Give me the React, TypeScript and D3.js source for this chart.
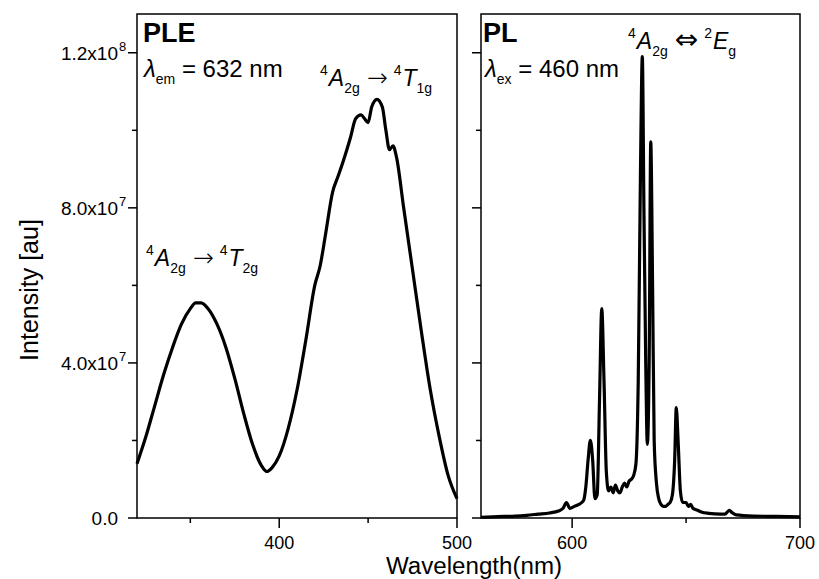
import React from 'react';
import * as d3 from 'd3';

// PLE spectrum (lambda_em = 632 nm)
const pleWavelength = [320, 325, 330, 335, 340, 345, 350, 353, 356, 360, 365, 370, 375, 380, 385, 390, 393, 396, 400, 405, 410, 415, 420, 423, 426, 430, 433, 436, 440, 443, 446, 448, 450, 452, 455, 458, 460, 462, 464, 466, 470, 475, 480, 485, 490, 495, 500];
const pleIntensity = [1.4e7, 2.1e7, 2.9e7, 3.7e7, 4.4e7, 5.0e7, 5.4e7, 5.55e7, 5.55e7, 5.4e7, 5.0e7, 4.4e7, 3.6e7, 2.7e7, 1.9e7, 1.35e7, 1.2e7, 1.3e7, 1.6e7, 2.3e7, 3.3e7, 4.6e7, 6.0e7, 6.5e7, 7.3e7, 8.4e7, 8.8e7, 9.2e7, 9.8e7, 1.03e8, 1.04e8, 1.03e8, 1.02e8, 1.06e8, 1.08e8, 1.06e8, 1.0e8, 9.5e7, 9.6e7, 9.3e7, 8.0e7, 6.4e7, 4.8e7, 3.3e7, 2.1e7, 1.1e7, 5e6];

// PL spectrum (lambda_ex = 460 nm)
const plWavelength = [560, 565, 570, 575, 580, 585, 590, 594, 596, 597.5, 599, 601, 603, 605, 606, 607, 608, 609, 610, 611, 612, 613, 614, 615, 616, 617, 618, 619, 620, 621, 622, 623, 624, 625, 626, 627, 628, 629, 630, 630.8, 631.5, 632.3, 633, 633.8, 634.5, 635.3, 636, 637, 638, 639, 640, 641, 642, 643, 644, 645, 645.7, 646.5, 647.5, 648.5, 650, 651, 652, 653, 655, 657, 660, 665, 667, 669, 670, 672, 680, 690, 700];
const plIntensity = [2e5, 3e5, 4e5, 5e5, 7e5, 1.0e6, 1.3e6, 1.8e6, 2.5e6, 4.0e6, 2.5e6, 3.0e6, 3.5e6, 4.5e6, 8e6, 1.5e7, 2.0e7, 1.5e7, 5e6, 6e6, 3e7, 5.4e7, 3.5e7, 1.2e7, 7e6, 8e6, 6.5e6, 8.5e6, 7e6, 6.5e6, 8e6, 9e6, 8e6, 9.5e6, 1.0e7, 1.1e7, 1.4e7, 3.5e7, 9e7, 1.19e8, 8e7, 4e7, 1.9e7, 4e7, 9.7e7, 6e7, 2e7, 9e6, 5e6, 3.5e6, 3e6, 3e6, 3.5e6, 4e6, 6e6, 1.5e7, 2.85e7, 2e7, 7e6, 4e6, 4e6, 3e6, 3.5e6, 2.5e6, 2e6, 1.5e6, 1.2e6, 1e6, 1e6, 2e6, 1.5e6, 8e5, 5e5, 4e5, 3e5];

const yMajorTicks = [0, 4e7, 8e7, 1.2e8];
const yMinorTicks = [2e7, 6e7, 1e8];
const yTickLabels = ['0.0', '4.0x10', '8.0x10', '1.2x10'];
const yTickExponents = ['', '7', '7', '8'];

const pleMajorTicks = [400, 500];
const pleMinorTicks = [350, 450];
const plMajorTicks = [600, 700];
const plMinorTicks = [650];

const font = '"Liberation Sans", Arial, Helvetica, sans-serif';
const arrowFont = '"DejaVu Sans", sans-serif';

// superscript / italic symbol / subscript, then back to the baseline
const Term = ({ sup, sym, sub, dx = 0 }) => (
    <>
        <tspan fontSize={14} dy={-11} dx={dx}>{sup}</tspan>
        <tspan fontStyle="italic" dy={11} dx={1}>{sym}</tspan>
        <tspan fontSize={14} dy={7}>{sub}</tspan>
    </>
);

const Transition = ({ x, y, a, arrow, b, arrowSize = 25, arrowWeight = 200 }) => (
    <text x={x} y={y} fontSize={23} fontFamily={font}>
        <Term sup={a[0]} sym={a[1]} sub={a[2]} />
        <tspan fontFamily={arrowFont} fontSize={arrowSize} fontWeight={arrowWeight} dx={7} dy={-7}>{arrow}</tspan>
        <Term sup={b[0]} sym={b[1]} sub={b[2]} dx={6} />
    </text>
);

const App = () => {
    const width = 819;
    const height = 579;
    const top = 14;
    const bottom = 518;

    const yScale = d3.scaleLinear().domain([0, 1.3e8]).range([bottom, top]);
    const xPle = d3.scaleLinear().domain([320, 500]).range([137, 457]);
    const xPl = d3.scaleLinear().domain([560, 700]).range([481, 800]);

    const pleLine = d3.line<number>()
        .x((d, i) => xPle(pleWavelength[i]))
        .y(d => yScale(d))
        .curve(d3.curveMonotoneX);

    const plLine = d3.line<number>()
        .x((d, i) => xPl(plWavelength[i]))
        .y(d => yScale(d))
        .curve(d3.curveMonotoneX);

    const panel = (x, ticksMajor, ticksMinor, showYLabels) => {
        const [x0, x1] = x.range();
        return (
            <g>
                <rect x={x0} y={top} width={x1 - x0} height={bottom - top} fill="none" stroke="#000" strokeWidth={1.5} />
                {/* y ticks */}
                {yMajorTicks.map(t => (
                    <line key={'ym' + t} x1={x0 - 9} x2={x0} y1={yScale(t)} y2={yScale(t)} stroke="#000" strokeWidth={1.5} />
                ))}
                {yMinorTicks.map(t => (
                    <line key={'yn' + t} x1={x0 - 5} x2={x0} y1={yScale(t)} y2={yScale(t)} stroke="#000" strokeWidth={1.5} />
                ))}
                {showYLabels && yMajorTicks.map((t, i) => (
                    <text key={'yl' + t} x={118} y={yScale(t) + 7} textAnchor="end" fontSize={19} fontFamily={font}>
                        {yTickLabels[i]}
                    </text>
                ))}
                {showYLabels && yMajorTicks.map((t, i) => yTickExponents[i] && (
                    <text key={'ye' + t} x={119} y={yScale(t) - 2} fontSize={13} fontFamily={font}>
                        {yTickExponents[i]}
                    </text>
                ))}
                {/* x ticks */}
                {ticksMajor.map(t => (
                    <line key={'xm' + t} x1={x(t)} x2={x(t)} y1={bottom} y2={bottom + 10} stroke="#000" strokeWidth={1.5} />
                ))}
                {ticksMinor.map(t => (
                    <line key={'xn' + t} x1={x(t)} x2={x(t)} y1={bottom} y2={bottom + 5} stroke="#000" strokeWidth={1.5} />
                ))}
                {ticksMajor.map(t => (
                    <text key={'xl' + t} x={x(t)} y={bottom + 31} textAnchor="middle" fontSize={18} fontFamily={font}>
                        {t}
                    </text>
                ))}
            </g>
        );
    };

    return (
        <svg width={width} height={height} style={{ position: 'absolute', left: 0, top: 0, background: '#fff' }}>
            {panel(xPle, pleMajorTicks, pleMinorTicks, true)}
            {panel(xPl, plMajorTicks, plMinorTicks, false)}

            <path d={pleLine(pleIntensity)} fill="none" stroke="#000" strokeWidth={3.2} strokeLinejoin="round" />
            <path d={plLine(plIntensity)} fill="none" stroke="#000" strokeWidth={3.2} strokeLinejoin="round" />

            {/* axis titles */}
            <text transform="translate(38,290) rotate(-90)" textAnchor="middle" fontSize={25} fontFamily={font}>
                Intensity [au]
            </text>
            <text x={474} y={574} textAnchor="middle" fontSize={23} fontFamily={font} textLength={176} lengthAdjust="spacingAndGlyphs">
                Wavelength(nm)
            </text>

            {/* PLE annotations */}
            <text x={143} y={42} fontSize={27} fontWeight="bold" fontFamily={font}>PLE</text>
            <text x={144} y={77} fontSize={24} fontFamily={font}>
                <tspan fontStyle="italic">λ</tspan>
                <tspan fontSize={14} dy={7}>em</tspan>
                <tspan dy={-7}> = 632 nm</tspan>
            </text>
            <Transition x={320} y={86} a={['4', 'A', '2g']} arrow="→" b={['4', 'T', '1g']} />
            <Transition x={146} y={266} a={['4', 'A', '2g']} arrow="→" b={['4', 'T', '2g']} />

            {/* PL annotations */}
            <text x={483} y={42} fontSize={27} fontWeight="bold" fontFamily={font}>PL</text>
            <text x={485} y={77} fontSize={24} fontFamily={font}>
                <tspan fontStyle="italic">λ</tspan>
                <tspan fontSize={14} dy={7}>ex</tspan>
                <tspan dy={-7}> = 460 nm</tspan>
            </text>
            <Transition x={628} y={49} a={['4', 'A', '2g']} arrow="⇔" b={['2', 'E', 'g']} arrowSize={28} arrowWeight={400} />
        </svg>
    );
};

export default App;
